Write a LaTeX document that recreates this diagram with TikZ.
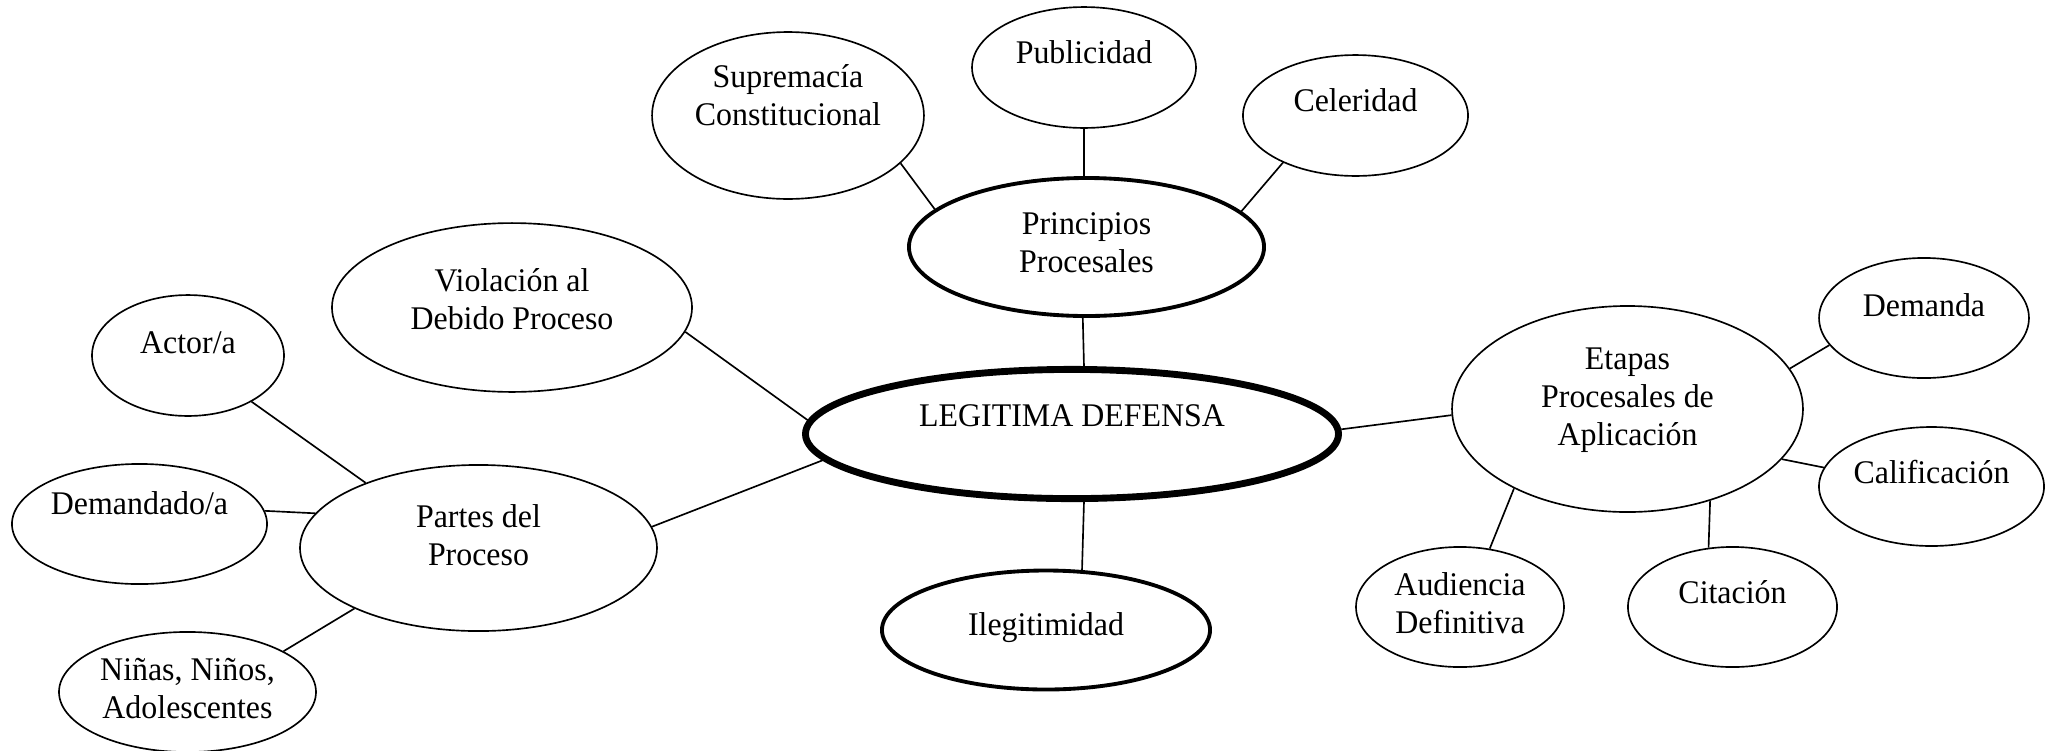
\documentclass[tikz,border=0pt]{standalone}
\usepackage{fontspec}
\setmainfont{Liberation Serif}[FakeStretch=0.965]
\usetikzlibrary{shapes.geometric}
\begin{document}
\begin{tikzpicture}[x=0.363pt, y=-0.363pt,
    font=\fontsize{12}{13.8}\selectfont,
    bubble/.style={draw, ellipse, line width=0.6pt, inner sep=0pt},
    core/.style={bubble, line width=1.4pt},
    hub/.style={bubble, line width=2.5pt},
    txt/.style={align=center, inner sep=0pt},
    link/.style={line width=0.6pt}]
\useasboundingbox (0,0) rectangle (2053,750);
% centro
\node[hub, minimum width=193.5pt, minimum height=46.9pt, label={[txt, yshift=6.5pt]center:LEGITIMA DEFENSA}] (ld) at (1072,434) {};
\node[core, minimum width=128.9pt, minimum height=50.1pt, label={[txt, yshift=1.6pt]center:Principios\\Procesales}] (pp) at (1086.5,247) {};
\node[core, minimum width=119.1pt, minimum height=43.2pt, label={[txt, yshift=0.7pt]center:Ilegitimidad}] (ile) at (1046,630) {};
% principios
\node[bubble, minimum width=98.7pt, minimum height=60.6pt, label={[txt, yshift=7.4pt]center:Supremacía\\Constitucional}] (sc) at (788,115.5) {};
\node[bubble, minimum width=81.3pt, minimum height=43.9pt, label={[txt, yshift=5.6pt]center:Publicidad}] (pub) at (1084,67.5) {};
\node[bubble, minimum width=81.7pt, minimum height=43.9pt, label={[txt, yshift=5.6pt]center:Celeridad}] (cel) at (1355.5,115.5) {};
% izquierda
\node[bubble, minimum width=130.7pt, minimum height=61.3pt, label={[txt, yshift=3.1pt]center:Violación al\\Debido Proceso}] (vdp) at (512,307.5) {};
\node[bubble, minimum width=129.6pt, minimum height=60.3pt, label={[txt, yshift=4.7pt]center:Partes del\\Proceso}] (pdp) at (478.5,548) {};
\node[bubble, minimum width=69.7pt, minimum height=43.9pt, label={[txt, yshift=4.5pt]center:Actor/a}] (act) at (188,355.5) {};
\node[bubble, minimum width=92.6pt, minimum height=43.6pt, label={[txt, yshift=7.6pt]center:Demandado/a}] (dem) at (139.5,524) {};
\node[bubble, minimum width=93.3pt, minimum height=43.6pt, label={[txt, yshift=1.3pt]center:Niñas, Niños,\\Adolescentes}] (nna) at (187.5,692) {};
% etapas
\node[bubble, minimum width=127.4pt, minimum height=74.8pt, label={[txt, yshift=3.3pt]center:Etapas\\Procesales de\\Aplicación}] (eta) at (1627.5,409) {};
\node[bubble, minimum width=76.2pt, minimum height=43.6pt, label={[txt, yshift=4.7pt]center:Demanda}] (dda) at (1924,318) {};
\node[bubble, minimum width=81.7pt, minimum height=43.2pt, label={[txt, yshift=5.3pt]center:Calificación}] (cal) at (1931.5,486.5) {};
\node[bubble, minimum width=75.9pt, minimum height=43.6pt, label={[txt, yshift=5.4pt]center:Citación}] (cit) at (1732.5,607) {};
\node[bubble, minimum width=75.5pt, minimum height=43.6pt, label={[txt, yshift=1.3pt]center:Audiencia\\Definitiva}] (aud) at (1460,607) {};
% lineas
\draw[link] (ld.80.8) -- (pp.267.2);
\draw[link] (ld.-80.8) -- (ile.59.2);
\draw[link] (ld.177) -- (vdp.-8.1);
\draw[link] (ld.186.4) -- (pdp.7.9);
\draw[link] (ld.1.9) -- (eta.182.3);
\draw[link] (pp.92) -- (pub.south);
\draw[link] (pp.166.9) -- (sc.-23);
\draw[link] (pp.13.8) -- (cel.213.2);
\draw[link] (pdp.150.6) -- (act.-36.4);
\draw[link] (pdp.168.4) -- (dem.6.8);
\draw[link] (pdp.206.1) -- (nna.23);
\draw[link] (eta.14.3) -- (dda.196);
\draw[link] (eta.-18) -- (cal.170.3);
\draw[link] (eta.-48.5) -- (cit.112.2);
\draw[link] (eta.215.8) -- (aud.63);
\end{tikzpicture}
\end{document}
